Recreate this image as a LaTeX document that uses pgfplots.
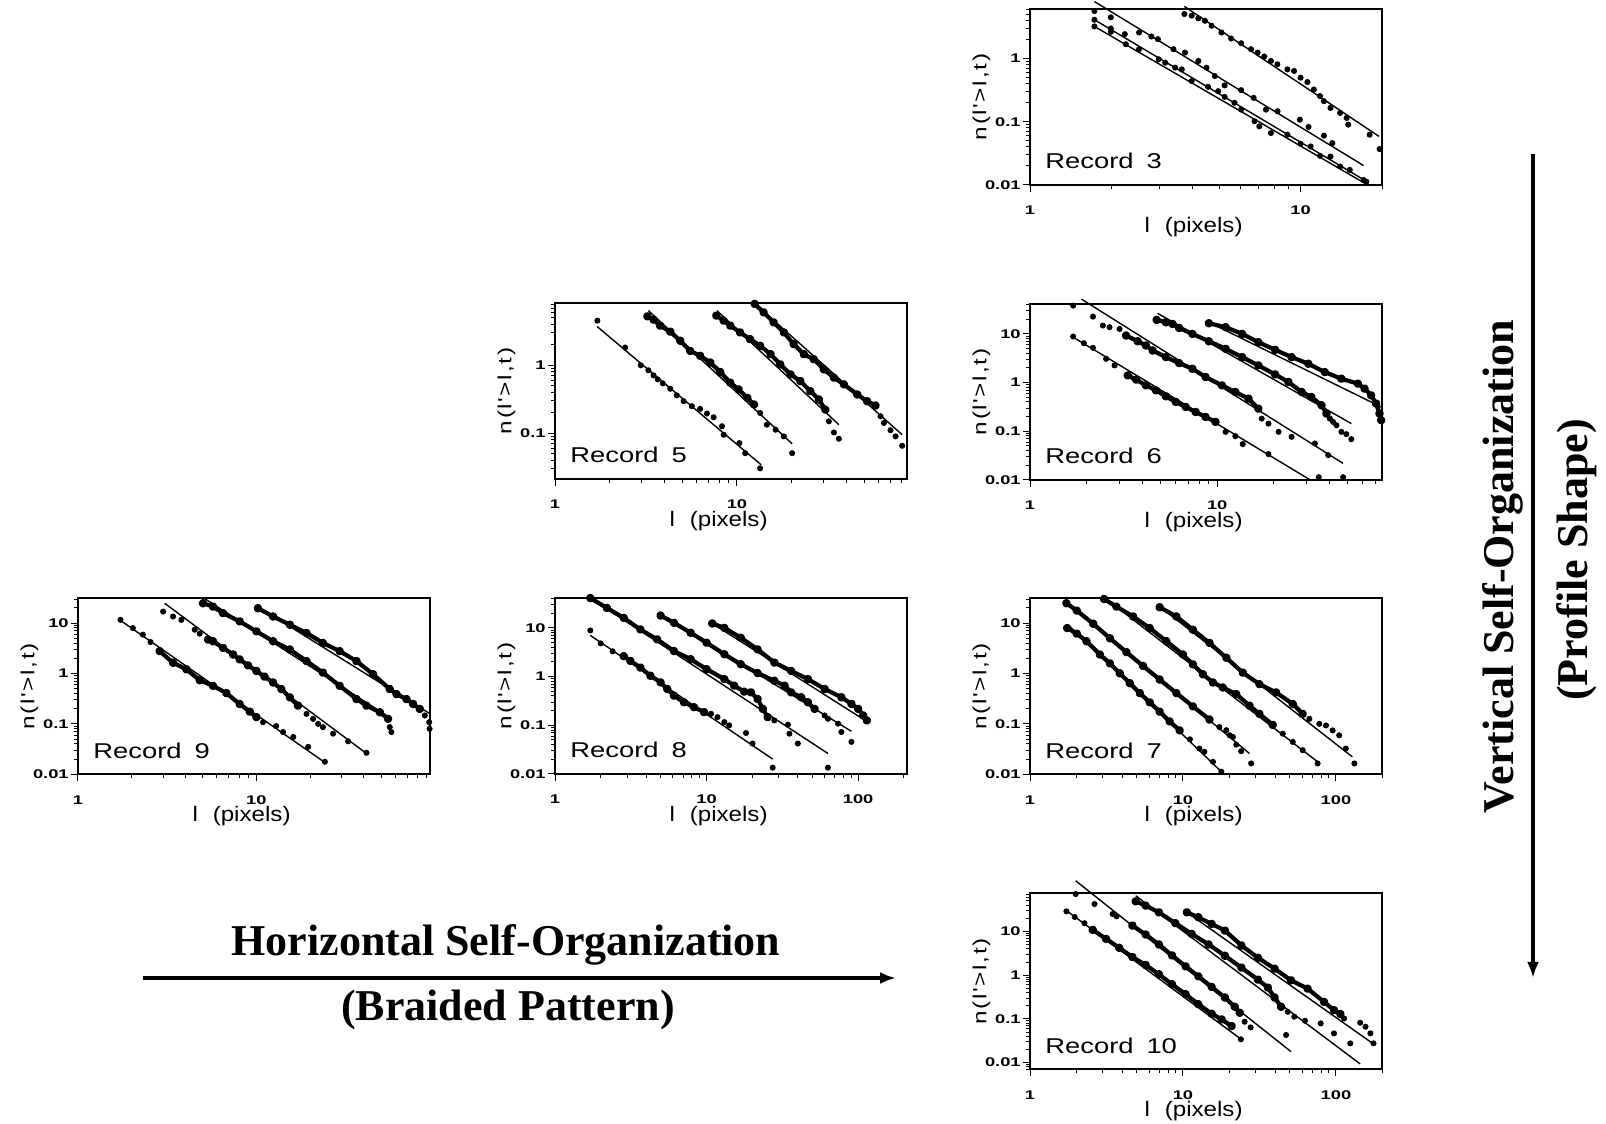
\documentclass[border=0pt]{standalone}
\usepackage{fontspec}
\usepackage{pgfplots}
\pgfplotsset{compat=1.18}
\usetikzlibrary{arrows.meta}
\newfontfamily\plotfont[FakeStretch=1.28]{Liberation Sans}
\newfontfamily\xlabfont[FakeStretch=1.15]{Liberation Sans}
\newfontfamily\tickfont[FakeStretch=1.45]{Liberation Sans}
\newfontfamily\titlefont{Liberation Serif}
\newcommand{\yl}{n\hspace{0.9pt}(\hspace{0.9pt}l\hspace{0.5pt}'\hspace{0.9pt}>\hspace{0.9pt}l\hspace{0.9pt},\hspace{0.9pt}t\hspace{0.9pt})}
\pgfplotsset{
  every axis/.append style={
    scale only axis, width=176pt, height=88pt,
    clip=false,
    axis line style={line width=0.9pt},
    tick align=outside, tick pos=left,
    major tick length=3.5pt, minor tick length=2pt,
    every tick/.style={black, line width=0.5pt},
    /pgf/number format/assume math mode=true,
    ticklabel style={font=\tickfont\bfseries\fontsize{6.3}{7}\selectfont},
    xticklabel style={yshift=-3.5pt},
    yticklabel style={inner sep=1pt},
    minor xtick={2,3,4,5,6,7,8,9,20,30,40,50,60,70,80,90,200},
    minor ytick={0.002,0.003,0.004,0.005,0.006,0.007,0.008,0.009,0.02,0.03,0.04,0.05,0.06,0.07,0.08,0.09,0.2,0.3,0.4,0.5,0.6,0.7,0.8,0.9,2,3,4,5,6,7,8,9,20,30,40,50,60,70,80,90},
    xlabel={l\hspace{0.7em}(pixels)}, ylabel={\yl},
    every axis x label/.style={at={(axis description cs:0.465,-0.27)}, anchor=base, font=\xlabfont\fontsize{10.5}{12}\selectfont},
    every axis y label/.style={at={(axis description cs:-0.124,0.5)}, anchor=base, rotate=90, font=\plotfont\fontsize{9.5}{11}\selectfont},
  },
  fitl/.style={black, line width=0.7pt, mark=none},
  dns/.style={black, line width=2.1pt, mark=*, mark size=1.05pt, line join=round, line cap=round},
  spr/.style={black, only marks, mark=*, mark size=1.3pt},
}
\tikzset{rec/.style={anchor=base west, font=\plotfont\fontsize{10.7}{12}\selectfont, inner sep=0pt}}
\begin{document}
\begin{tikzpicture}
\path[use as bounding box] (0pt,0pt) rectangle (803pt,562pt);

% ---------------- Record 3
\begin{loglogaxis}[at={(515pt,469.5pt)}, anchor=south west,
  xmin=1, xmax=20, ymin=0.01, ymax=6.1,
  xtick={1,10}, xticklabels={1,10}, ytick={0.01,0.1,1}, yticklabels={0.01,0.1,1}]
\addplot[fitl] coordinates {(3.72,6.7)(19.5,0.0587)};
\addplot[fitl] coordinates {(1.73,8.0)(17.1,0.0203)};
\addplot[fitl] coordinates {(1.73,4.12)(17.6,0.0113)};
\addplot[fitl] coordinates {(1.73,3.23)(17.3,0.0106)};
\addplot[spr] coordinates {(3.72,5.08)(3.96,4.78)(4.19,4.33)(4.43,3.97)(4.69,3.31)(5.10,2.59)(5.54,2.08)(6.03,1.75)(6.56,1.41)(6.94,1.245)(7.34,1.08)(7.77,0.918)(8.21,0.813)(8.94,0.676)(9.46,0.637)(10,0.499)(10.6,0.426)(11.2,0.325)(11.8,0.255)(12.2,0.212)(12.9,0.166)(14.0,0.138)(14.8,0.115)(15.0,0.0902)(18.0,0.0625)(19.6,0.037)};
\addplot[spr] coordinates {(1.73,5.66)(1.99,4.50)(2.24,2.44)(2.53,2.59)(2.81,2.24)(2.97,2.03)(3.39,1.41)(3.74,1.245)(4.19,0.918)(4.49,0.72)(4.82,0.53)(5.24,0.377)(6.03,0.317)(6.71,0.239)(7.45,0.156)(8.22,0.147)(9.94,0.108)(10.7,0.0828)(12.2,0.0603)(13.1,0.046)};
\addplot[spr] coordinates {(1.73,4.12)(1.99,3.00)(2.53,1.41)(3.16,0.863)(3.64,0.676)(4.55,0.358)(5.24,0.248)(6.03,0.156)(7.04,0.0847)(8.94,0.0625)(10.9,0.0407)(12.9,0.0282)(15.2,0.0173)(17.5,0.0113)};
\addplot[spr] coordinates {(1.73,3.23)(1.99,2.66)(2.26,1.69)(2.99,0.975)(3.44,0.72)(3.96,0.442)(4.96,0.305)(5.70,0.20)(6.76,0.102)(7.77,0.0664)(10.0,0.0449)(11.8,0.0289)(14.0,0.0196)(17.1,0.012)};
\node[rec] at ([xshift=7.5pt,yshift=8pt]rel axis cs:0,0) {Record\hspace{0.6em}3};
\end{loglogaxis}

% ---------------- Record 5
\begin{loglogaxis}[at={(277.5pt,322.5pt)}, anchor=south west,
  xmin=1, xmax=86, ymin=0.021, ymax=8.3,
  xtick={1,10}, xticklabels={1,10}, ytick={0.1,1}, yticklabels={0.1,1}]
\addplot[fitl] coordinates {(1.70,3.75)(13.6,0.0339)};
\addplot[fitl] coordinates {(3.26,6.41)(20.1,0.0695)};
\addplot[fitl] coordinates {(7.76,6.41)(36.3,0.133)};
\addplot[fitl] coordinates {(12.4,8.34)(80.9,0.0945)};
\addplot[spr] coordinates {(1.71,4.55)(2.43,1.83)(2.96,1.0)(3.26,0.843)(3.48,0.71)(3.67,0.619)(3.91,0.541)(4.30,0.45)(4.67,0.36)(5.09,0.295)(5.65,0.249)(6.28,0.227)(6.84,0.194)(7.44,0.171)(8.27,0.126)(8.45,0.0944)(10.3,0.071)(11.1,0.0505)(13.4,0.0302)};
\addplot[dns] coordinates {(3.22,5.28)(3.48,4.71)(3.78,3.84)(4.30,3.13)(4.88,2.30)(5.53,1.63)(6.28,1.38)(7.13,1.10)(8.09,0.797)(9.19,0.553)(10.2,0.441)(11.4,0.331)(12.4,0.264)};
\addplot[spr] coordinates {(13.4,0.198)(14.6,0.133)(16.3,0.112)(18.1,0.0893)(20.1,0.0505)};
\addplot[dns] coordinates {(7.70,5.41)(8.45,4.55)(9.19,3.84)(10.4,3.05)(11.8,2.43)(13.4,1.94)(15.3,1.46)(17.3,1.03)(19.7,0.734)(22.3,0.585)(25.3,0.416)(28.2,0.313)(30.6,0.222)};
\addplot[spr] coordinates {(32.0,0.149)(34.1,0.102)(36.3,0.0824)};
\addplot[dns] coordinates {(12.5,8.05)(14.0,6.05)(15.9,4.30)(18.1,3.05)(20.5,2.05)(23.3,1.46)(26.4,1.23)(30.0,0.873)(34.1,0.656)(38.7,0.522)(45.8,0.371)(51.9,0.295)(57.7,0.255)};
\addplot[spr] coordinates {(61.5,0.177)(64.2,0.141)(69.8,0.11)(74.4,0.0893)(80.9,0.0649)};
\node[rec] at ([xshift=7.5pt,yshift=8pt]rel axis cs:0,0) {Record\hspace{0.6em}5};
\end{loglogaxis}

% ---------------- Record 6
\begin{loglogaxis}[at={(515pt,322pt)}, anchor=south west,
  xmin=1, xmax=76, ymin=0.01, ymax=41,
  xtick={1,10}, xticklabels={1,10}, ytick={0.01,0.1,1,10}, yticklabels={0.01,0.1,1,10}]
\addplot[fitl] coordinates {(1.70,8.53)(31.9,0.0097)};
\addplot[fitl] coordinates {(1.88,51.9)(47.1,0.0219)};
\addplot[fitl] coordinates {(4.80,26.4)(52.1,0.144)};
\addplot[fitl] coordinates {(9.03,17.3)(75.2,0.316)};
\addplot[spr] coordinates {(1.70,8.81)(1.94,6.43)(2.17,5.16)(2.55,3.08)(2.83,2.25)};
\addplot[dns] coordinates {(3.33,1.40)(3.69,1.15)(4.16,0.877)(4.71,0.692)(5.32,0.522)(6.01,0.40)(6.79,0.316)(7.67,0.249)(8.67,0.197)(9.80,0.156)};
\addplot[spr] coordinates {(11.1,0.0973)(12.5,0.0794)(13.7,0.0545)(18.8,0.034)(34.9,0.0114)};
\addplot[spr] coordinates {(1.70,37.9)(2.17,22.6)(2.45,14.8)(2.66,13.7)(3.01,12.6)};
\addplot[dns] coordinates {(3.26,9.23)(3.76,7.06)(4.16,5.77)(4.52,4.55)(5.32,3.33)(6.26,2.51)(7.37,1.92)(8.67,1.30)(10.6,0.877)(12.5,0.64)(14.7,0.468)(16.6,0.292)};
\addplot[spr] coordinates {(17.3,0.182)(18.8,0.144)(21.3,0.0973)(25.0,0.0769)(33.3,0.0562)(39.2,0.0324)(47.1,0.0114)};
\addplot[dns] coordinates {(4.75,19.3)(5.32,17.3)(5.77,16.0)(6.26,13.2)(7.37,9.98)(9.03,7.06)(11.1,4.93)(13.6,3.33)(16.6,2.25)(20.4,1.47)(24.0,1.03)(28.3,0.64)(31.9,0.506)(36.1,0.342)(38.4,0.231)};
\addplot[spr] coordinates {(40.0,0.182)(41.6,0.156)(43.4,0.133)(46.1,0.0973)(49.0,0.0873)(52.1,0.0689)};
\addplot[dns] coordinates {(9.03,16.5)(11.1,13.7)(13.6,9.98)(16.6,6.75)(20.4,4.70)(25.0,3.33)(30.7,2.43)(37.6,1.64)(46.1,1.20)(56.5,0.949)(61.3,0.75)(66.5,0.547)(70.7,0.37)(73.7,0.231)(75.2,0.169)};
\node[rec] at ([xshift=7.5pt,yshift=8pt]rel axis cs:0,0) {Record\hspace{0.6em}6};
\end{loglogaxis}

% ---------------- Record 9
\begin{loglogaxis}[at={(39pt,174.85pt)}, anchor=south west,
  xmin=1, xmax=94, ymin=0.01, ymax=31,
  xtick={1,10}, xticklabels={1,10}, ytick={0.01,0.1,1,10}, yticklabels={0.01,0.1,1,10}]
\addplot[fitl] coordinates {(1.71,11.6)(24.2,0.0172)};
\addplot[fitl] coordinates {(3.06,24.7)(41.4,0.0259)};
\addplot[fitl] coordinates {(5.13,30.5)(53.6,0.147)};
\addplot[fitl] coordinates {(10.2,21.2)(93.7,0.16)};
\addplot[spr] coordinates {(1.73,11.6)(2.03,7.96)(2.31,5.89)(2.55,4.2)};
\addplot[dns] coordinates {(2.87,2.77)(3.41,1.63)(4.05,1.21)(4.81,0.734)(5.71,0.569)(6.79,0.408)(8.06,0.248)(9.18,0.175)(10.0,0.136)};
\addplot[spr] coordinates {(10.9,0.108)(12.9,0.0904)(14.1,0.0689)(16.1,0.055)(19.5,0.035)(24.2,0.0177)};
\addplot[spr] coordinates {(3.00,16.9)(3.41,13.5)(3.80,11.6)(4.51,7.38)(4.81,6.17)};
\addplot[dns] coordinates {(5.36,4.70)(5.71,4.36)(6.50,3.22)(7.40,2.38)(8.06,1.90)(8.98,1.45)(10.0,1.12)(11.1,0.867)(12.4,0.662)(13.8,0.49)(15.4,0.336)(17.1,0.23)};
\addplot[spr] coordinates {(19.1,0.158)(20.8,0.126)(22.2,0.10)(23.6,0.0863)(26.9,0.064)(32.7,0.0452)(41.4,0.0267)};
\addplot[dns] coordinates {(5.02,24.7)(5.71,21.2)(6.50,15.7)(8.06,10.8)(10.0,6.85)(12.4,4.36)(15.4,2.99)(19.1,1.76)(23.6,1.04)(29.3,0.569)(36.4,0.311)(41.4,0.23)(49.2,0.17)(54.7,0.126)};
\addplot[spr] coordinates {(55.9,0.0863)(57.1,0.0689)};
\addplot[dns] coordinates {(10.2,19.7)(12.4,13.5)(15.4,9.27)(19.1,6.35)(23.6,4.04)(29.3,2.77)(36.4,1.76)(45.1,0.964)(55.9,0.49)(61.0,0.39)(69.4,0.311)(75.6,0.248)(82.4,0.198)};
\addplot[spr] coordinates {(87.9,0.147)(93.0,0.108)(93.5,0.08)};
\node[rec] at ([xshift=7.5pt,yshift=8pt]rel axis cs:0,0) {Record\hspace{0.6em}9};
\end{loglogaxis}

% ---------------- Record 8
\begin{loglogaxis}[at={(277.5pt,175pt)}, anchor=south west,
  xmin=1, xmax=210, ymin=0.01, ymax=41,
  xtick={1,10,100}, xticklabels={1,10,100}, ytick={0.01,0.1,1,10}, yticklabels={0.01,0.1,1,10}]
\addplot[fitl] coordinates {(1.71,7.0)(27.3,0.0202)};
\addplot[fitl] coordinates {(1.71,40.9)(63.2,0.0264)};
\addplot[fitl] coordinates {(4.97,18.7)(90.3,0.0752)};
\addplot[fitl] coordinates {(10.9,12.3)(116,0.116)};
\addplot[spr] coordinates {(1.71,8.84)(2.0,4.8)(2.4,3.3)};
\addplot[dns] coordinates {(2.84,2.62)(3.14,2.10)(3.66,1.53)(4.26,1.04)(4.97,0.76)(5.50,0.556)(6.09,0.406)(7.09,0.297)(8.26,0.235)(9.63,0.186)};
\addplot[spr] coordinates {(10.7,0.172)(11.8,0.147)(13.1,0.116)(14.1,0.0995)(18.2,0.0695)(20.1,0.0422)(27.3,0.0135)};
\addplot[dns] coordinates {(1.71,40.9)(2.20,25.6)(2.84,16.0)(3.66,9.27)(4.72,5.79)(6.09,3.35)(7.85,2.27)(10.0,1.42)(13.1,0.887)(15.2,0.65)(17.7,0.49)(19.6,0.475)(21.7,0.348)(23.5,0.217)(25.3,0.147)};
\addplot[spr] coordinates {(28.0,0.126)(34.4,0.103)(35.2,0.0673)(40.0,0.0422)(63.2,0.0135)};
\addplot[dns] coordinates {(4.97,17.9)(6.09,12.7)(7.85,7.94)(10.0,4.96)(13.1,2.87)(16.8,1.79)(21.7,1.18)(28.0,0.82)(32.7,0.65)(36.1,0.475)(42.1,0.376)(46.6,0.297)(51.6,0.217)};
\addplot[spr] coordinates {(60.1,0.159)(63.2,0.136)(73.7,0.108)(77.5,0.0728)(90.3,0.0456)};
\addplot[dns] coordinates {(10.9,12.3)(13.1,10.0)(16.8,6.27)(21.7,3.62)(28.0,1.94)(36.1,1.31)(46.6,0.887)(60.1,0.556)(77.5,0.376)(90.3,0.275)(100,0.217)(108,0.159)(114,0.126)};
\node[rec] at ([xshift=7.5pt,yshift=8pt]rel axis cs:0,0) {Record\hspace{0.6em}8};
\end{loglogaxis}

% ---------------- Record 7
\begin{loglogaxis}[at={(515pt,174.85pt)}, anchor=south west,
  xmin=1, xmax=200, ymin=0.01, ymax=31,
  xtick={1,10,100}, xticklabels={1,10,100}, ytick={0.01,0.1,1,10}, yticklabels={0.01,0.1,1,10}]
\addplot[fitl] coordinates {(1.82,8.59)(17.8,0.0113)};
\addplot[fitl] coordinates {(1.73,26.6)(27.2,0.0259)};
\addplot[fitl] coordinates {(3.01,33.4)(75.9,0.0177)};
\addplot[fitl] coordinates {(7.05,21.2)(128,0.0222)};
\addplot[dns] coordinates {(1.75,7.96)(2.02,6.17)(2.34,4.36)(2.86,2.38)(3.33,1.585)(3.86,1.01)(4.49,0.641)(5.22,0.408)(6.06,0.268)(7.04,0.175)(8.18,0.112)(9.51,0.0743)};
\addplot[spr] coordinates {(11.1,0.0494)(12.8,0.0324)(13.8,0.0279)(15.7,0.0177)(17.8,0.0113)};
\addplot[dns] coordinates {(1.73,24.7)(2.02,17.7)(2.59,9.68)(3.33,4.99)(4.27,2.65)(5.48,1.41)(7.04,0.759)(9.05,0.408)(11.6,0.223)(14.9,0.122)};
\addplot[spr] coordinates {(17.3,0.0863)(19.2,0.075)(20.2,0.0593)(21.2,0.055)(22.3,0.0388)(24.0,0.0287)(27.9,0.0164)};
\addplot[dns] coordinates {(3.05,30)(3.67,21.2)(4.72,13.5)(6.06,7.96)(7.79,4.36)(10.0,2.38)(11.6,1.52)(13.5,0.964)(15.7,0.662)(18.2,0.527)(22.3,0.39)(27.2,0.23)(31.6,0.158)(38.6,0.0959)};
\addplot[spr] coordinates {(44.9,0.064)(52.2,0.0439)(60.6,0.0301)(75.9,0.0164)};
\addplot[dns] coordinates {(7.04,20.6)(9.05,13.5)(11.6,7.38)(14.9,4.04)(19.2,2.05)(24.6,1.04)(31.6,0.614)(40.6,0.421)(52.2,0.248)(60.6,0.158)};
\addplot[spr] coordinates {(67.0,0.126)(77.8,0.10)(86.1,0.0931)(95.1,0.0743)(105,0.0593)(116,0.0324)(132,0.0164)};
\node[rec] at ([xshift=7.5pt,yshift=8pt]rel axis cs:0,0) {Record\hspace{0.6em}7};
\end{loglogaxis}

% ---------------- Record 10
\begin{loglogaxis}[at={(515pt,27.35pt)}, anchor=south west,
  xmin=1, xmax=200, ymin=0.007, ymax=75,
  xtick={1,10,100}, xticklabels={1,10,100}, ytick={0.01,0.1,1,10}, yticklabels={0.01,0.1,1,10}]
\addplot[fitl] coordinates {(1.73,30.1)(24.7,0.0317)};
\addplot[fitl] coordinates {(1.99,145)(50.8,0.0178)};
\addplot[fitl] coordinates {(4.91,65.9)(144,0.0093)};
\addplot[fitl] coordinates {(10.6,27.5)(176,0.0266)};
\addplot[spr] coordinates {(1.73,29.0)(1.96,21.5)(2.27,15.5)};
\addplot[dns] coordinates {(2.57,10.9)(3.14,6.79)(3.83,4.24)(4.67,2.60)(5.70,1.71)(6.96,1.05)(8.48,0.619)(10.4,0.366)(12.6,0.217)(15.4,0.131)(17.9,0.097)(20.8,0.0684)};
\addplot[spr] coordinates {(23.9,0.034)};
\addplot[spr] coordinates {(1.99,72)(2.64,42.6)(3.47,25.2)(3.68,22.3)};
\addplot[dns] coordinates {(4.67,13.7)(5.70,8.53)(6.96,5.05)(8.48,2.84)(10.4,1.59)(12.6,0.942)(15.4,0.538)(18.8,0.308)(21.8,0.189)(23.5,0.138)};
\addplot[spr] coordinates {(25.3,0.0859)(27.7,0.0638)};
\addplot[dns] coordinates {(4.91,49.0)(5.70,39.1)(6.96,27.5)(8.92,15.5)(11.4,8.83)(14.7,5.05)(18.8,2.79)(24.1,1.49)(30.9,0.791)(35.9,0.52)(39.7,0.308)(43.8,0.189)};
\addplot[spr] coordinates {(48.4,0.145)(47.2,0.0427)(53.4,0.112)(62.7,0.0906)(79.5,0.0787)(97.1,0.0466)(124,0.0275)};
\addplot[dns] coordinates {(10.6,27.5)(12.6,21.2)(15.4,14.9)(18.8,10.5)(24.1,4.79)(30.9,2.51)(39.7,1.41)(50.8,0.764)(65.2,0.493)(83.6,0.245)(97.1,0.158)(107,0.129)};
\addplot[spr] coordinates {(113,0.102)(144,0.0815)(156,0.0661)(168,0.0466)(176,0.0275)};
\node[rec] at ([xshift=7.5pt,yshift=8pt]rel axis cs:0,0) {Record\hspace{0.6em}10};
\end{loglogaxis}

% ---------------- titles and arrows
\node[anchor=base, font=\titlefont\bfseries\fontsize{22}{24}\selectfont, inner sep=0pt] at (253pt,84pt) {Horizontal Self-Organization};
\draw[line width=2pt, -{Latex[length=8pt,width=6pt]}] (71.5pt,73pt) -- (448pt,73pt);
\node[anchor=base, font=\titlefont\bfseries\fontsize{22}{24}\selectfont, inner sep=0pt] at (254pt,51.5pt) {(Braided Pattern)};
\draw[line width=2pt, -{Latex[length=8pt,width=6pt]}] (766.5pt,485pt) -- (766.5pt,73pt);
\node[anchor=base, rotate=90, font=\titlefont\bfseries\fontsize{22}{24}\selectfont, inner sep=0pt] at (756.7pt,278.7pt) {Vertical Self-Organization};
\node[anchor=base, rotate=90, font=\titlefont\bfseries\fontsize{22}{24}\selectfont, inner sep=0pt] at (793.5pt,282pt) {(Profile Shape)};
\end{tikzpicture}
\end{document}
